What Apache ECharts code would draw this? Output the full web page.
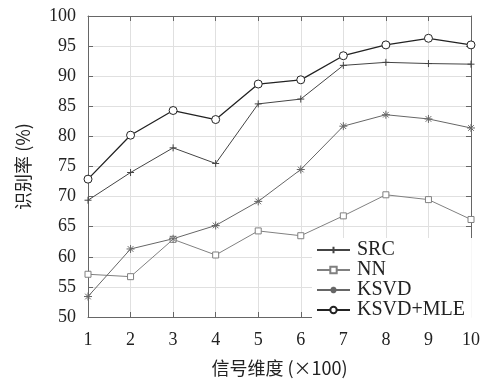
<!DOCTYPE html>
<html><head><meta charset="utf-8">
<script src="https://cdn.jsdelivr.net/npm/echarts@6/dist/echarts.min.js"></script>
<style>html,body{margin:0;padding:0;background:#fff}#c{width:483px;height:382px}</style>
</head><body><div id="c"></div>
<script>
const dims = [1,2,3,4,5,6,7,8,9,10];
const src = [69.4,74.0,78.1,75.5,85.4,86.2,91.8,92.3,92.1,92.0];
const nn = [57.1,56.7,62.9,60.3,64.3,63.5,66.8,70.3,69.5,66.2];
const ksvd = [53.4,61.3,63.0,65.2,69.2,74.5,81.7,83.6,82.9,81.4];
const ksvdMle = [72.9,80.2,84.3,82.8,88.7,89.4,93.4,95.2,96.3,95.2];
const seriesNames = ['SRC','NN','KSVD','KSVD+MLE'];
const xTicks = ['1','2','3','4','5','6','7','8','9','10'];

const serif = '"Liberation Serif","DejaVu Serif",serif';
const cjk = '"Noto Sans CJK SC",' + serif;
const plusPath = 'path://M0,-1L0,1M-1,0L1,0';
const starPath = 'path://M0,-1L0,1M-1,0L1,0M-0.707,-0.707L0.707,0.707M-0.707,0.707L0.707,-0.707';

function mk(name, vals, color, symbol, size, lw){
  return {
    name: name, type:'line', data: dims.map((d,i)=>[d, vals[i]]),
    symbol: symbol, symbolSize: size, showSymbol:true,
    lineStyle:{color:color, width:lw},
    itemStyle:{color:'#fff', borderColor:color, borderWidth:1},
    emphasis:{disabled:true}, animation:false, z: 3
  };
}
const chart = echarts.init(document.getElementById('c'));
const axisLineStyle = {color:'#666', width:1};
chart.setOption({
  animation:false,
  grid:{left:88, right:12, top:16, bottom:65},
  legend:{
    orient:'vertical', left:312, top:238, itemWidth:33, itemHeight:8, itemGap:0,
    padding:[2,7,5,4],
    data: seriesNames,
    textStyle:{fontFamily:serif, fontSize:20, color:'#222', lineHeight:18, height:18, padding:[0,0,0,2]},
    backgroundColor:'#fff', z:5
  },
  xAxis:[{
    type:'value', min:1, max:10, interval:1,
    axisLine:{show:true, lineStyle:axisLineStyle},
    axisTick:{show:true, inside:true, length:5, lineStyle:{color:'#666'}},
    axisLabel:{fontFamily:serif, fontSize:18, color:'#222', margin:14, formatter:(v)=>xTicks[v-1]},
    splitLine:{show:true, lineStyle:{color:'#e0e0e0', width:1}},
    name:'信号维度 (×100)', nameLocation:'middle', nameGap:42,
    nameTextStyle:{fontFamily:cjk, fontSize:18, color:'#222'}
  },{
    type:'value', min:1, max:10, interval:1, position:'top',
    axisLine:{show:true, lineStyle:axisLineStyle},
    axisTick:{show:true, inside:true, length:5, lineStyle:{color:'#666'}},
    axisLabel:{show:false}, splitLine:{show:false}
  }],
  yAxis:[{
    type:'value', min:50, max:100, interval:5,
    axisLine:{show:true, lineStyle:axisLineStyle},
    axisTick:{show:true, inside:true, length:5, lineStyle:{color:'#666'}},
    axisLabel:{fontFamily:serif, fontSize:18, color:'#222', margin:12},
    splitLine:{show:true, lineStyle:{color:'#e0e0e0', width:1}},
    name:'识别率 (%)', nameLocation:'middle', nameGap:56, nameRotate:90,
    nameTextStyle:{fontFamily:cjk, fontSize:18, color:'#222'}
  },{
    type:'value', min:50, max:100, interval:5, position:'right',
    axisLine:{show:true, lineStyle:axisLineStyle},
    axisTick:{show:true, inside:true, length:5, lineStyle:{color:'#666'}},
    axisLabel:{show:false}, splitLine:{show:false}
  }],
  series:[
    mk('SRC', src, '#444', plusPath, 7, 1),
    mk('NN', nn, '#808080', 'rect', 6, 1),
    mk('KSVD', ksvd, '#666', starPath, 8, 1),
    mk('KSVD+MLE', ksvdMle, '#222', 'circle', 8, 1.3)
  ]
});
</script></body></html>
